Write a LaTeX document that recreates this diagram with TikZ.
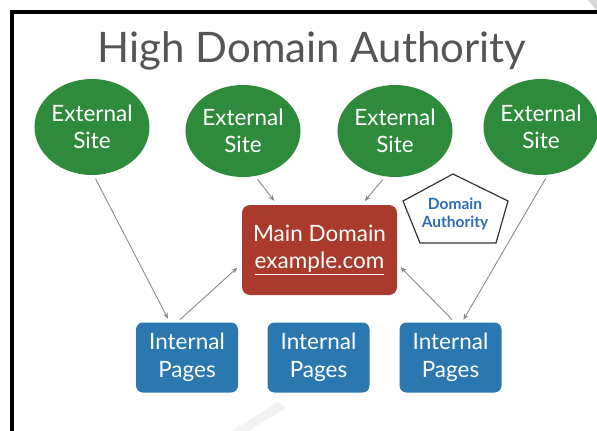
\documentclass[tikz,border=0pt]{standalone}
\usepackage{fontspec}
\setmainfont{Lato}
\usetikzlibrary{shapes.geometric,arrows.meta}

\definecolor{sitegreen}{HTML}{2E8B3C}
\definecolor{mainred}{HTML}{AA3B2C}
\definecolor{pageblue}{HTML}{2B77AF}
\definecolor{linkgray}{HTML}{8A8A8A}
\definecolor{titlegray}{HTML}{555555}
\definecolor{authblue}{HTML}{2D6DB5}

\begin{document}
\begin{tikzpicture}[x=1pt,y=-1pt,
  site/.style={ellipse, fill=sitegreen, text=white, inner sep=0pt,
    align=center, font=\fontsize{22.5}{27}\selectfont},
  pagebox/.style={rectangle, rounded corners=7pt, fill=pageblue, text=white,
    minimum width=102pt, minimum height=70pt, inner sep=0pt, align=center,
    font=\fontsize{22.5}{28}\selectfont},
  mainbox/.style={rectangle, rounded corners=8pt, fill=mainred, text=white,
    minimum width=155pt, minimum height=90pt, inner sep=0pt, align=center,
    font=\fontsize{22.5}{27}\selectfont},
  link/.style={draw=linkgray, line width=0.9pt,
    -{Stealth[length=6pt,width=5pt]}}
]
\useasboundingbox (0,0) rectangle (597,431);
\fill[white] (0,0) rectangle (597,431);

% frame
\fill[black!15] (588,0) -- (597,0) -- (597,11) -- cycle;
\draw[line width=3.2pt, line join=miter] (12,431) -- (12,12) -- (597,12);
\fill[black!5] (232,431) -- (278,402) -- (286,408) -- (248,431) -- cycle;

% title
\node[font=\fontsize{42}{48}\selectfont, text=titlegray, anchor=base]
  (title) at (312,62) {High Domain Authority};

% external sites
\node[site, minimum width=112pt, minimum height=96pt] (ext1) at (92,127) {External\\Site};
\node[site, minimum width=114pt, minimum height=92pt] (ext2) at (243,131) {External\\Site};
\node[site, minimum width=114pt, minimum height=92pt] (ext3) at (395,131) {External\\Site};
\node[site, minimum width=108pt, minimum height=96pt] (ext4) at (541,127) {External\\Site};

% main domain
\node[mainbox] (main) at (319.5,250) {Main Domain\\\underline{example.com}};

% domain authority pentagon
\draw[line width=1.2pt, draw=black!80, fill=white]
  (453,174) -- (508,201) -- (496,243) -- (420,243) -- (403,201) -- cycle;
\node[font=\bfseries\fontsize{15.5}{17.5}\selectfont, text=authblue, align=center]
  (auth) at (455,214) {Domain\\Authority};

% internal pages
\node[pagebox] (int1) at (187,357.5) {Internal\\Pages};
\node[pagebox] (int2) at (318.5,357.5) {Internal\\Pages};
\node[pagebox] (int3) at (450.5,357.5) {Internal\\Pages};

% links
\draw[link, shorten <=4pt, shorten >=4pt] (ext1.272) -- (int1.116);
\draw[link, shorten <=4pt, shorten >=6pt] (int1.106) -- (main.190);
\draw[link, shorten <=4pt, shorten >=5pt] (ext2.285) -- (main.133);
\draw[link, shorten <=4pt, shorten >=5pt] (ext3.258) -- (main.47);
\draw[link, shorten <=4pt, shorten >=3pt] (ext4.278) -- (int3.72);
\draw[link, shorten <=4pt, shorten >=5pt] (int3.83) -- (main.350);
\end{tikzpicture}
\end{document}
